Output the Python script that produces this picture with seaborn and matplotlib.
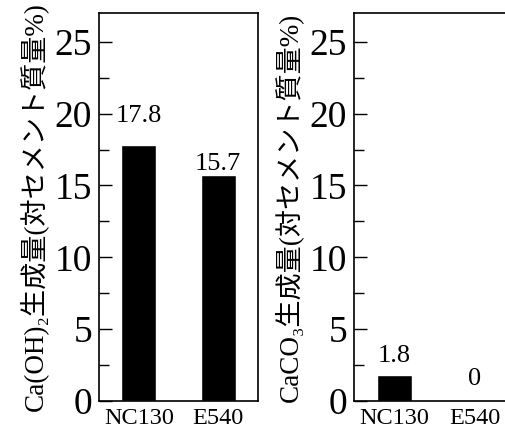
import matplotlib
matplotlib.use("Agg")
import matplotlib.pyplot as plt
import seaborn as sns
import pandas as pd
from matplotlib.ticker import MultipleLocator

categories = ["NC130", "E540"]
caoh2_values = [17.8, 15.7]
caco3_values = [1.8, 0.0]
caoh2_labels = ["17.8", "15.7"]
caco3_labels = ["1.8", "0"]
y_ticks = [0, 5, 10, 15, 20, 25]
ylabel_left = "Ca(OH)₂生成量(対セメント質量%)"
ylabel_right = "CaCO₃生成量(対セメント質量%)"

sns.set_theme(style="ticks")
plt.rcParams["font.family"] = ["Liberation Serif", "Noto Sans CJK JP", "DejaVu Sans"]

fig = plt.figure(figsize=(5.05, 4.32), dpi=100)
ax1 = fig.add_axes([99/505, 31/432, 159/505, 388/432])
ax2 = fig.add_axes([354/505, 31/432, 161/505, 388/432])

panels = [
    (ax1, caoh2_values, caoh2_labels, ylabel_left, [13, 0]),
    (ax2, caco3_values, caco3_labels, ylabel_right, [6, 8]),
]

for ax, vals, labs, ylab, offs in panels:
    df = pd.DataFrame({"cat": categories, "val": vals})
    sns.barplot(data=df, x="cat", y="val", color="black", saturation=1,
                width=0.44, ax=ax)
    ax.set_xlim(-0.5, 1.5)
    ax.set_ylim(0, 27)
    ax.set_yticks(y_ticks)
    ax.yaxis.set_minor_locator(MultipleLocator(2.5))
    ax.tick_params(axis="y", which="major", direction="in", length=9, width=1,
                   labelsize=27, pad=5, color="black", labelcolor="black")
    ax.tick_params(axis="y", which="minor", direction="in", length=7, width=1,
                   color="black")
    ax.tick_params(axis="x", length=0, labelsize=17.5, pad=5, labelcolor="black")
    ax.set_xlabel("")
    ax.set_ylabel(ylab, fontsize=19.5, labelpad=5, color="black")
    for s in ax.spines.values():
        s.set_visible(True)
        s.set_linewidth(1.2)
        s.set_color("black")
    for i, (v, t, o) in enumerate(zip(vals, labs, offs)):
        ax.annotate(t, xy=(i, v), xytext=(0, o), textcoords="offset points",
                    ha="center", va="bottom", fontsize=19, color="black")

fig.savefig("out.png", dpi=100)
